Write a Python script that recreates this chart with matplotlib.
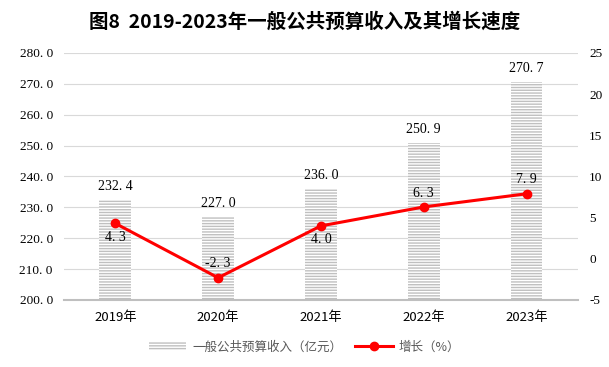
import matplotlib
matplotlib.use("Agg")
import matplotlib.pyplot as plt
import numpy as np

plt.rcParams["font.family"] = ["Noto Sans CJK SC", "DejaVu Sans"]
plt.rcParams["hatch.linewidth"] = 1.0

years = ["2019年", "2020年", "2021年", "2022年", "2023年"]
revenue = [232.4, 227.0, 236.0, 250.9, 270.7]
growth = [4.3, -2.3, 4.0, 6.3, 7.9]
growth_label_above = [False, True, False, True, True]

NUM = ["Liberation Serif", "DejaVu Serif"]
GRID = "#d9d9d9"
BAR = "#c0c0c0"
RED = "#ff0000"

fig = plt.figure(figsize=(6.09, 3.67), dpi=100)
ax = fig.add_axes([0.105, 0.1826, 0.844, 0.673])
x = np.arange(len(years))

ax.set_ylim(200, 280)
ax.set_xlim(-0.5, len(years) - 0.5)
ax.set_yticks(np.arange(200, 281, 10))
ax.set_yticklabels([f"{v:.1f}".replace(".", ". ") for v in np.arange(200, 281, 10)],
                   family=NUM, fontsize=9.5)
ax.grid(axis="y", color=GRID, lw=0.8)
ax.set_axisbelow(True)
for s in ("top", "right", "left"):
    ax.spines[s].set_visible(False)
ax.spines["bottom"].set_color("#bfbfbf")
ax.spines["bottom"].set_linewidth(1.5)
ax.tick_params(axis="both", length=0, pad=8)
ax.set_xticks(x)
ax.set_xticklabels(years, fontsize=9.5)

bars = ax.bar(x, [r - 200 for r in revenue], 0.31, bottom=200, facecolor="white",
              edgecolor=BAR, hatch="------", lw=0, zorder=2,
              label="一般公共预算收入（亿元）")
for xi, v in zip(x, revenue):
    ax.text(xi, v + 2.2, f"{v:.1f}".replace(".", ". "), ha="center", va="bottom",
            family=NUM, fontsize=10)

ax2 = ax.twinx()
ax2.set_position(ax.get_position())
ax2.set_ylim(-5, 25)
ax2.set_yticks(np.arange(-5, 26, 5))
ax2.set_yticklabels([str(v) for v in range(-5, 26, 5)], family=NUM, fontsize=9.5)
ax2.tick_params(axis="y", length=0, pad=8)
for s in ax2.spines.values():
    s.set_visible(False)
ax2.plot(x, growth, color=RED, lw=2.2, marker="o", ms=6, label="增长（%）", zorder=3)
for xi, v, up in zip(x, growth, growth_label_above):
    ax2.text(xi, v + (0.9 if up else -0.9), f"{v:.1f}".replace(".", ". "),
             ha="center", va="bottom" if up else "top", family=NUM, fontsize=10)

h1, l1 = ax.get_legend_handles_labels()
h2, l2 = ax2.get_legend_handles_labels()
fig.legend(h1 + h2, l1 + l2, loc="center", bbox_to_anchor=(0.5, 0.055), ncol=2,
           frameon=False, fontsize=9, labelcolor="#595959", handlelength=3,
           columnspacing=1.0, handletextpad=0.5)

fig.text(0.5, 0.94, "图8  2019-2023年一般公共预算收入及其增长速度", ha="center",
         va="center", fontsize=14, fontweight="bold")

fig.savefig("out.png", dpi=100)
